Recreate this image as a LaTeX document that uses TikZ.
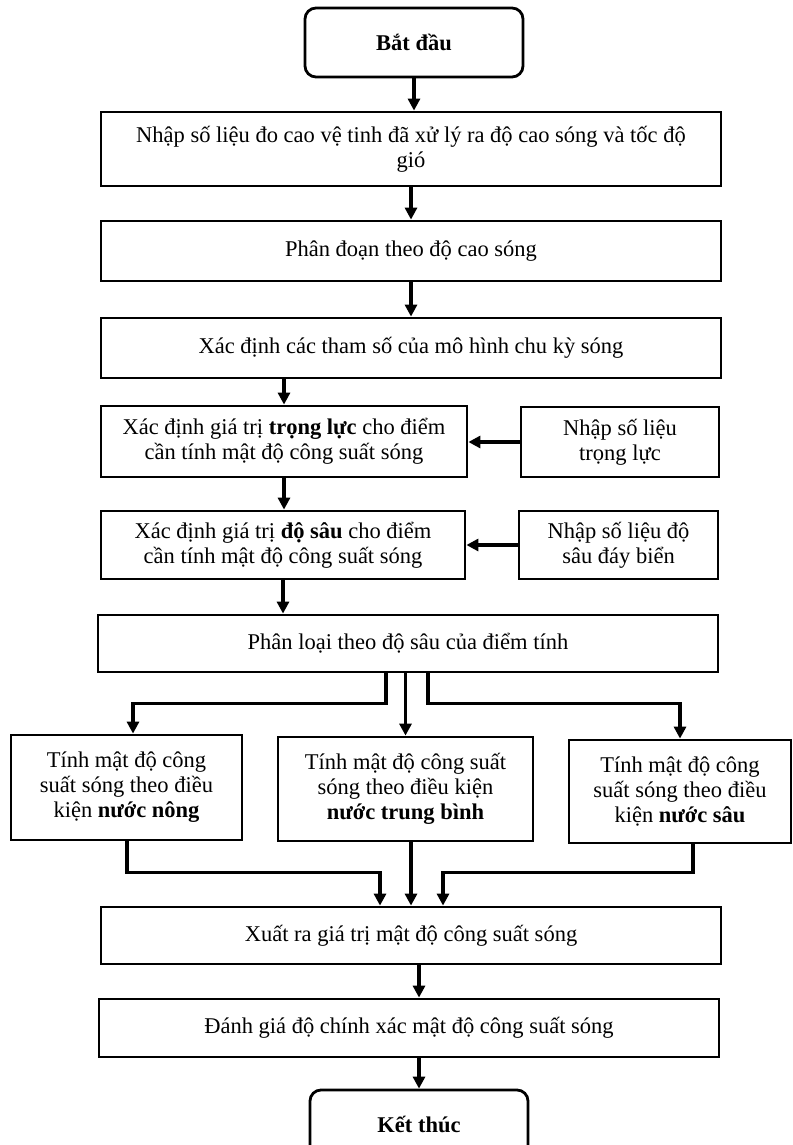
\documentclass[tikz,border=0pt]{standalone}
\usepackage{fontspec}
\setmainfont{Liberation Serif}
\usetikzlibrary{arrows.meta}

\begin{document}
\begin{tikzpicture}
[x=1pt,y=-1pt,%
  darkArrow/.style={-{Triangle[length=12pt,width=12pt]},line width=3.2pt},%
  boxDecorate/.style={shape=rectangle,draw,line width=2.8pt,align=center,inner sep=2pt,font=\fontsize{22.5}{25}\selectfont},%
  roundDecorate/.style={boxDecorate,rounded corners=11pt,font=\fontsize{22.5}{25}\selectfont\bfseries}]
\useasboundingbox (0,0) rectangle (792,1145);
%% start and end
\node (start) at (414,42.5) [roundDecorate,minimum width=218pt,minimum height=69pt] {Bắt đầu};
\node (end) at (419,1124.5) [roundDecorate,minimum width=218pt,minimum height=69pt] {Kết thúc};
%% process boxes
\foreach \nodename/\x/\y/\w/\h/\txt in {
  b1/411/149/620/74/{Nhập số liệu đo cao vệ tinh đã xử lý ra độ cao sóng và tốc độ\\gió},
  b2/411/251/620/60/{Phân đoạn theo độ cao sóng},
  b3/411/348/620/60/{Xác định các tham số của mô hình chu kỳ sóng},
  b4/284/441.5/366/71/{Xác định giá trị \textbf{trọng lực} cho điểm\\cần tính mật độ công suất sóng},
  grav/620/442/198/70/{Nhập số liệu\\trọng lực},
  b5/283/545/364/68/{Xác định giá trị \textbf{độ sâu} cho điểm\\cần tính mật độ công suất sóng},
  depth/618.5/545/199/68/{Nhập số liệu độ\\sâu đáy biển},
  b6/408/643.5/620/57/{Phân loại theo độ sâu của điểm tính},
  shallow/126.5/787.5/231/105/{Tính mật độ công\\suất sóng theo điều\\kiện \textbf{nước nông}},
  mid/405.5/789/255/104/{Tính mật độ công suất\\sóng theo điều kiện\\\textbf{nước trung bình}},
  deep/680/791.5/222/103/{Tính mật độ công\\suất sóng theo điều\\kiện \textbf{nước sâu}},
  b7/411/935.5/620/57/{Xuất ra giá trị mật độ công suất sóng},
  b8/409/1028/620/58/{Đánh giá độ chính xác mật độ công suất sóng}}
{
  \node (\nodename) at (\x,\y) [boxDecorate,minimum width=\w pt,minimum height=\h pt] {\txt};
}
%% straight arrows
\path
\foreach \startnode/\endnode in {start/b1, b1/b2, b2/b3, b4/b5, b5/b6}
{
  (\startnode.south) edge[darkArrow] (\startnode.south |- \endnode.north)
}
\foreach \startnode/\endnode in {grav/b4, depth/b5}
{
  (\startnode.west) edge[darkArrow] (\startnode.west -| \endnode.east)
};
\draw[darkArrow] (b4.north |- b3.south) -- (b4.north);
\draw[darkArrow] (mid.north |- b6.south) -- (mid.north);
\draw[darkArrow] (b7.north |- mid.south) -- (b7.north);
\draw[darkArrow] (end.north |- b7.south) -- (end.north |- b8.north);
\draw[darkArrow] (end.north |- b8.south) -- (end.north);
%% branching arrows
\draw[darkArrow] ([xshift=-22pt]b6.south) -- ++(0,30) -| ([xshift=6.5pt]shallow.north);
\draw[darkArrow] ([xshift=20pt]b6.south) -- ++(0,30) -| (deep.north);
\draw[darkArrow] ([xshift=0.5pt]shallow.south) -- ++(0,31) -| ([xshift=-31pt]b7.north);
\draw[darkArrow] ([xshift=13pt]deep.south) -- ++(0,28) -| ([xshift=32pt]b7.north);
\end{tikzpicture}
\end{document}
